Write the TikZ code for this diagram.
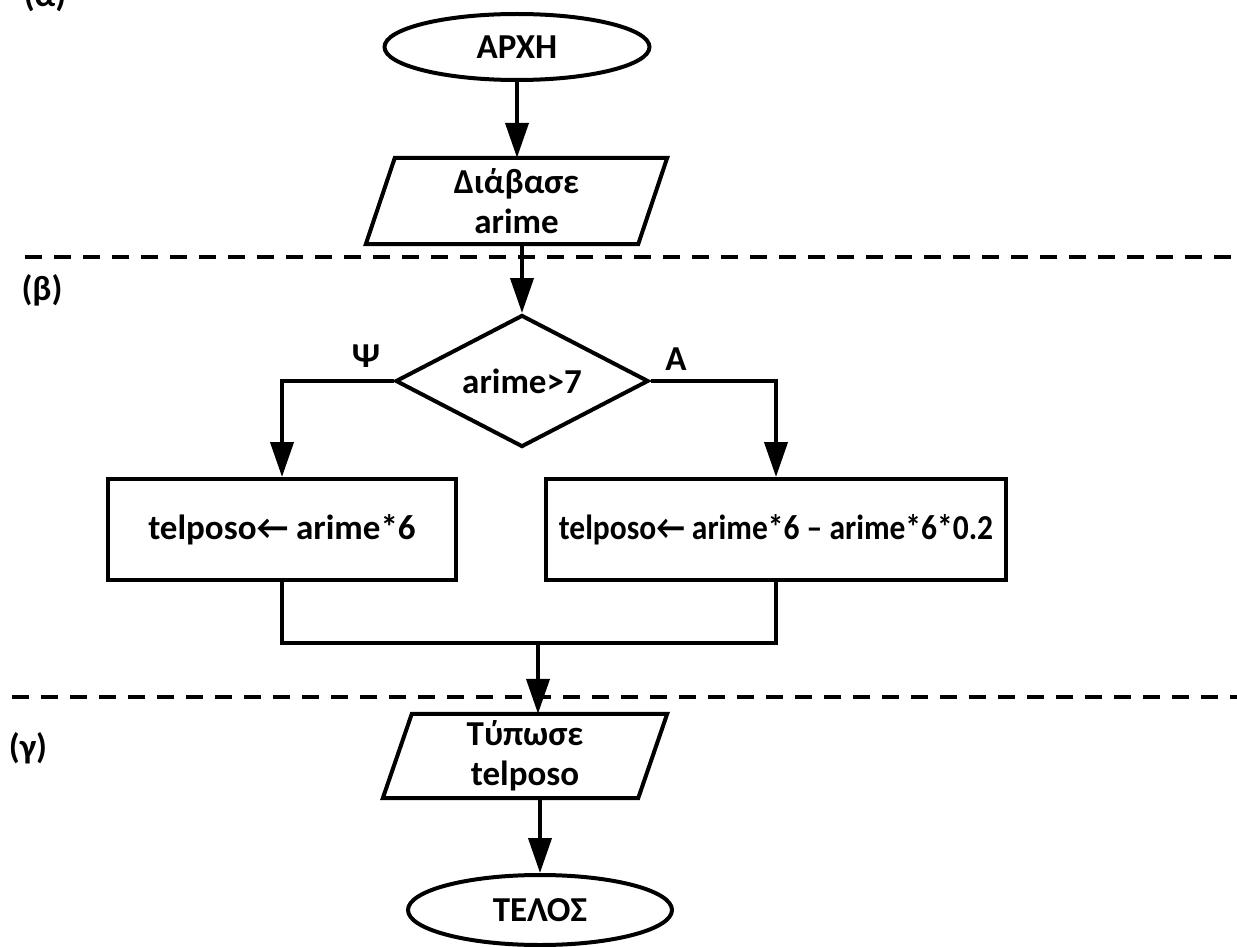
\documentclass[tikz,border=0pt]{standalone}
\usepackage{fontspec}
\usepackage{graphicx}
\setmainfont{Carlito}
\usetikzlibrary{shapes.geometric,arrows.meta,calc}
\begin{document}
\begin{tikzpicture}[x=1pt,y=-1pt,
  every node/.style={font=\fontsize{35}{40}\selectfont\bfseries,inner sep=0pt},
  shapeline/.style={draw,line width=4pt},
  term/.style={shapeline,ellipse,minimum width=265pt,minimum height=66pt},
  iobox/.style={align=center,minimum width=301pt,minimum height=86pt},
  procbox/.style={shapeline,rectangle,minimum height=101pt},
  decision/.style={shapeline,diamond,aspect=1.9,minimum width=253pt,minimum height=132pt},
  flow/.style={line width=4pt,-{Triangle[length=35pt,width=23pt]}},
  link/.style={line width=4pt},
  sepline/.style={line width=4.5pt,dash pattern=on 17pt off 12pt},
  tag/.style={anchor=base}]
\useasboundingbox (0,0) rectangle (1237,947);

% section separators
\draw[sepline] (25,257) -- (1237,257);
\draw[sepline] (12,697) -- (1237,697);

% section tags
\node[tag] (ta) at (45,7) {(α)};
\node[tag] (tb) at (42,300) {(β)};
\node[tag] (tg) at (28,758) {(γ)};

% nodes
\node[term] (start) at (517,47) {ΑΡΧΗ};
\node[iobox] (in) at (516.5,201) {Διάβασε\\arime};
\draw[line width=4pt] (in.south west) -- ($(in.north west)+(29,0)$) -- (in.north east)
  -- ($(in.south east)-(29,0)$) -- cycle;
\node[decision] (dec) at (522,381) {arime>7};
\node[procbox,minimum width=348pt] (bno) at (282,529.5) {telposo← arime*6};
\node[procbox,minimum width=460pt] (byes) at (776,529.5)
  {\scalebox{0.9}[1]{telposo← arime*6 – arime*6*0.2}};
\node[iobox,minimum width=284pt,minimum height=84pt] (out) at (525,756) {Τύπωσε\\telposo};
\draw[line width=4pt] (out.south west) -- ($(out.north west)+(29,0)$) -- (out.north east)
  -- ($(out.south east)-(29,0)$) -- cycle;
\node[term,minimum width=264pt,minimum height=70pt] (stop) at (540,910) {ΤΕΛΟΣ};

% branch labels
\node (lno) at (366,356) {Ψ};
\node (lyes) at (676,359) {Α};

% connectors
\coordinate (merge) at (538,643);
\draw[flow] (start.south) -- (start.south |- in.north);
\draw[flow] (dec.north |- in.south) -- (dec.north);
\draw[flow] (dec.west) -| (bno.north);
\draw[flow] (dec.east) -| (byes.north);
\draw[link] (bno.south) |- (merge) -| (byes.south);
\draw[flow] (merge) -- (merge |- out.north);
\draw[flow] (stop.north |- out.south) -- (stop.north);
\end{tikzpicture}
\end{document}
